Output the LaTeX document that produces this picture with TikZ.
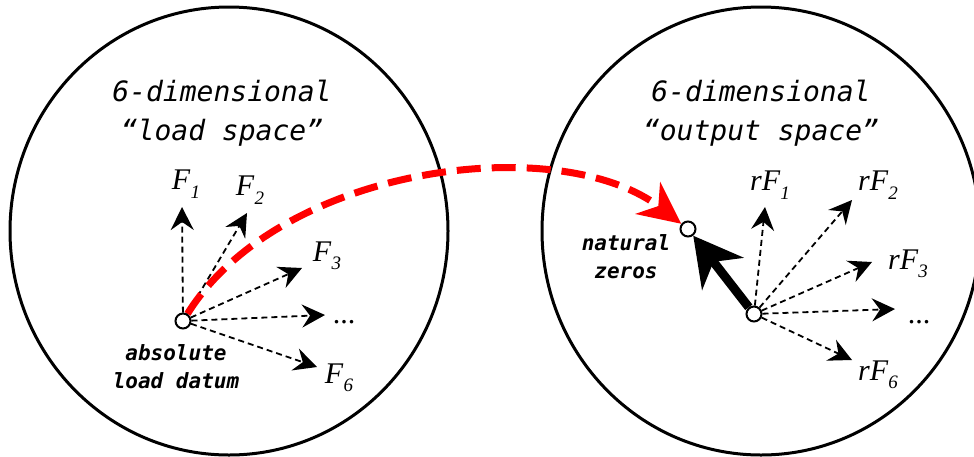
\documentclass[tikz,border=0pt]{standalone}
\usepackage{fontspec}
\setmainfont{Liberation Serif}
\setmonofont{DejaVu Sans Mono}[ItalicFont={DejaVu Sans Mono Oblique},BoldItalicFont={DejaVu Sans Mono Bold Oblique},BoldFont={DejaVu Sans Mono Bold}]
\usetikzlibrary{arrows.meta,backgrounds}
\newcommand\vlab[2]{\textit{#1}\raisebox{-0.28em}{\fontsize{19}{19}\selectfont\textit{#2}}}
\tikzset{
  ring/.style={line width=3pt},
  dot/.style={circle,draw,fill=white,line width=2pt,minimum size=15pt,inner sep=0pt},
  vec/.style={line width=1.8pt,dash pattern=on 6pt off 4pt,-{Stealth[length=23pt,width=23pt,inset=8pt]}},
  bigvec/.style={line width=9pt,-{Stealth[length=48pt,width=52pt,inset=15pt]}},
  redvec/.style={red,line width=7pt,dash pattern=on 24pt off 11pt,-{Stealth[length=42pt,width=40pt,inset=13pt]}},
  title/.style={font=\ttfamily\itshape\fontsize{28}{39}\selectfont,align=center},
  note/.style={font=\ttfamily\bfseries\itshape\fontsize{21}{28}\selectfont,align=center},
  flab/.style={font=\fontsize{30}{32}\selectfont,inner sep=0pt}
}
\begin{document}
\begin{tikzpicture}[x=1pt,y=-1pt]
\useasboundingbox (0,0) rectangle (974,456);
% datum nodes
\node[dot] (ld) at (183,321) {};
\node[dot] (rd) at (754,314) {};
\node[dot] (nz) at (688,229) {};
% arrow tips
\coordinate (f1) at (182,207);
\coordinate (f2) at (247,213);
\coordinate (f3) at (302,268);
\coordinate (f4) at (325,315);
\coordinate (f6) at (317,367);
\coordinate (r1) at (765,207);
\coordinate (r2) at (852,200);
\coordinate (r3) at (872,262);
\coordinate (r4) at (895,309);
\coordinate (r6) at (852,360);
% texts
\node[title] (t1) at (222,113) {6-dimensional\\“load space”};
\node[title] (t2) at (761,113) {6-dimensional\\“output space”};
\node[note] (n1) at (176,367) {absolute\\load datum};
\node[note] (n2) at (626,257) {natural\\zeros};
\node[flab] (lf1) at (186,184) {\vlab{F}{1}};
\node[flab] (lf2) at (250,190) {\vlab{F}{2}};
\node[flab] (lf3) at (327,256) {\vlab{F}{3}};
\node[flab] (lf4) at (344,322) {...};
\node[flab] (lf6) at (339,378) {\vlab{F}{6}};
\node[flab] (lr1) at (770,185) {\vlab{rF}{1}};
\node[flab] (lr2) at (878,185) {\vlab{rF}{2}};
\node[flab] (lr3) at (908,264) {\vlab{rF}{3}};
\node[flab] (lr4) at (919,322) {...};
\node[flab] (lr6) at (878,375) {\vlab{rF}{6}};
\begin{scope}[on background layer]
  \draw[ring] (229,231) ellipse [x radius=219pt,y radius=224pt];
  \draw[ring] (761,231) ellipse [x radius=219pt,y radius=224pt];
  \draw[vec] (ld) -- (f1);
  \draw[vec] (ld) -- (f2);
  \draw[vec] (ld) -- (f3);
  \draw[vec] (ld) -- (f4);
  \draw[vec] (ld) -- (f6);
  \draw[vec] (rd) -- (r1);
  \draw[vec] (rd) -- (r2);
  \draw[vec] (rd) -- (r3);
  \draw[vec] (rd) -- (r4);
  \draw[vec] (rd) -- (r6);
  \draw[bigvec] (rd) -- (nz);
  \draw[redvec] (ld) .. controls (280,165) and (560,130) .. (nz);
\end{scope}
\end{tikzpicture}
\end{document}
